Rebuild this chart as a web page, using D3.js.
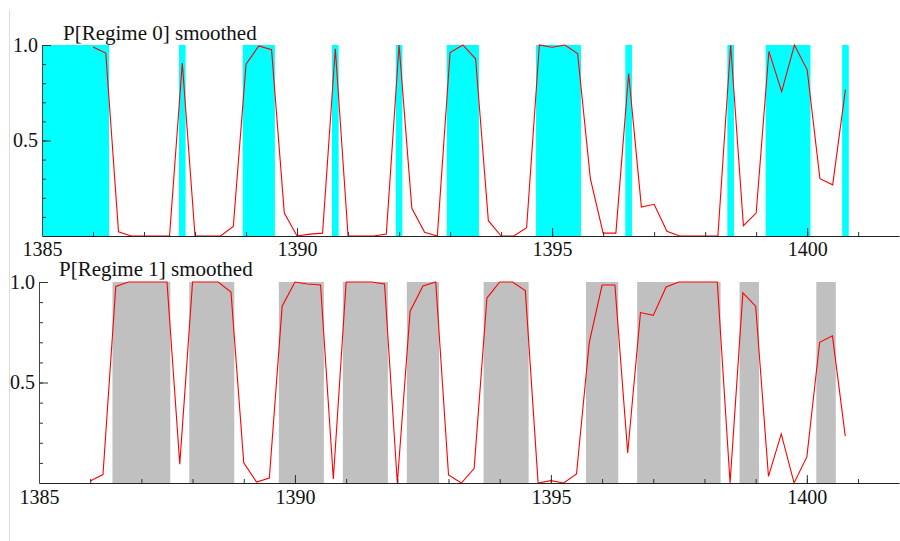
<!DOCTYPE html>
<html>
<head>
<meta charset="utf-8">
<script src="https://cdn.jsdelivr.net/npm/d3@7"></script>
<style>
  body { margin: 0; background: #fff; }
</style>
</head>
<body>
<div id="chart"></div>
<script>
// quarterly data, first observation 1386(1)
const startYear = 1386;
const periodsPerYear = 4;

const regime0Prob = [
  0.99, 0.958, 0.022, 0.0,
  0.0, 0.0, 0.0, 0.906,
  0.0, 0.0, 0.0, 0.05,
  0.90, 0.995, 0.975, 0.12,
  0.0, 0.01, 0.015, 0.98,
  0.0, 0.0, 0.0, 0.01,
  1.0, 0.145, 0.02, 0.0,
  0.96, 1.0, 0.928, 0.08,
  0.0, 0.0, 0.043, 1.0,
  0.988, 1.0, 0.955, 0.30,
  0.015, 0.015, 0.85, 0.152,
  0.166, 0.025, 0.0, 0.0,
  0.0, 0.0, 1.0, 0.054,
  0.12, 0.967, 0.756, 1.0,
  0.87, 0.30, 0.268, 0.767
];

const regime1Prob = [
  0.01, 0.042, 0.978, 1.0,
  1.0, 1.0, 1.0, 0.094,
  1.0, 1.0, 1.0, 0.95,
  0.10, 0.005, 0.025, 0.88,
  1.0, 0.99, 0.985, 0.02,
  1.0, 1.0, 1.0, 0.99,
  0.0, 0.855, 0.98, 1.0,
  0.04, 0.0, 0.072, 0.92,
  1.0, 1.0, 0.957, 0.0,
  0.012, 0.0, 0.045, 0.70,
  0.985, 0.985, 0.15, 0.848,
  0.834, 0.975, 1.0, 1.0,
  1.0, 1.0, 0.0, 0.946,
  0.88, 0.033, 0.244, 0.0,
  0.13, 0.70, 0.732, 0.233
];

// classified regime spans [first, last period]
const regime0Spans = [
  [1385, 1386.25], [1387.75, 1387.75], [1389, 1389.5], [1390.75, 1390.75],
  [1392, 1392], [1393, 1393.5], [1394.75, 1395.5], [1396.5, 1396.5],
  [1398.5, 1398.5], [1399.25, 1400], [1400.75, 1400.75]
];
const regime1Spans = [
  [1386.5, 1387.5], [1388, 1388.75], [1389.75, 1390.5], [1391, 1391.75],
  [1392.25, 1392.75], [1393.75, 1394.5], [1395.75, 1396.25], [1396.75, 1398.25],
  [1398.75, 1399], [1400.25, 1400.5]
];

const xDomain = [1385, 1401.8];
const xMinorTicks = d3.range(1385, 1402);
const xMajorTicks = [1385, 1390, 1395, 1400];
const yMinorTicks = [0.1, 0.2, 0.3, 0.4, 0.5, 0.6, 0.7, 0.8, 0.9, 1.0];
const yMajorTicks = [0.5, 1.0];

const width = 900;
const height = 541;
const serif = '"Liberation Serif", "DejaVu Serif", serif';

const svg = d3.select('#chart')
  .append('svg')
    .attr('width', width)
    .attr('height', height);

svg.append('rect')
  .attr('width', width)
  .attr('height', height)
  .attr('fill', '#fff');

// faint frame line on the left
svg.append('line')
  .attr('x1', 9.5).attr('x2', 9.5)
  .attr('y1', 10).attr('y2', height)
  .attr('stroke', '#dcdcdc');

const panels = [
  { title: 'P[Regime 0] smoothed', values: regime0Prob, spans: regime0Spans, fill: '#00ffff',
    left: 42, right: 899, top: 45, bottom: 236, titleX: 63, titleY: 40, labelPad: 6 },
  { title: 'P[Regime 1] smoothed', values: regime1Prob, spans: regime1Spans, fill: '#c0c0c0',
    left: 39, right: 899, top: 282, bottom: 483, titleX: 59, titleY: 276, labelPad: 7 }
];

panels.forEach(drawPanel);

function drawPanel(p) {
  const x = d3.scaleLinear().domain(xDomain).range([p.left, p.right]);
  const y = d3.scaleLinear().domain([0, 1]).range([p.bottom, p.top]);
  const halfWidth = 0.065;

  const g = svg.append('g');

  // regime shading
  g.selectAll('rect.span')
    .data(p.spans)
    .join('rect')
      .attr('class', 'span')
      .attr('x', d => x(Math.max(xDomain[0], d[0] - halfWidth)))
      .attr('width', d => x(d[1] + halfWidth) - x(Math.max(xDomain[0], d[0] - halfWidth)))
      .attr('y', y(1))
      .attr('height', y(0) - y(1))
      .attr('fill', p.fill);

  // probability line
  const points = p.values.map((v, i) => ({ t: startYear + i / periodsPerYear, v }));
  const line = d3.line().x(d => x(d.t)).y(d => y(d.v));
  g.append('path')
    .datum(points)
    .attr('d', line)
    .attr('fill', 'none')
    .attr('stroke', '#ff0000')
    .attr('stroke-width', 1.1);

  // x axis
  g.append('g')
    .attr('transform', `translate(0, ${p.bottom})`)
    .call(d3.axisBottom(x).tickValues(xMinorTicks).tickSize(-4).tickSizeOuter(0).tickFormat(''))
    .call(a => a.select('.domain').attr('stroke', '#222'));
  g.append('g')
    .attr('transform', `translate(0, ${p.bottom})`)
    .call(d3.axisBottom(x).tickValues(xMajorTicks).tickSize(-8).tickSizeOuter(0)
      .tickPadding(p.labelPad).tickFormat(d3.format('d')))
    .attr('font-family', serif)
    .attr('font-size', 20)
    .call(a => a.select('.domain').remove())
    .call(a => a.selectAll('text').attr('fill', '#111'));

  // y axis
  g.append('g')
    .attr('transform', `translate(${p.left}, 0)`)
    .call(d3.axisLeft(y).tickValues(yMinorTicks).tickSize(-4).tickSizeOuter(0).tickFormat(''))
    .call(a => a.select('.domain').attr('stroke', '#444'));
  g.append('g')
    .attr('transform', `translate(${p.left}, 0)`)
    .call(d3.axisLeft(y).tickValues(yMajorTicks).tickSize(-9).tickSizeOuter(0)
      .tickPadding(4).tickFormat(d3.format('.1f')))
    .attr('font-family', serif)
    .attr('font-size', 20)
    .call(a => a.select('.domain').remove())
    .call(a => a.selectAll('text').attr('fill', '#111'));

  g.selectAll('.tick line').attr('stroke', '#333');

  // panel title
  g.append('text')
    .attr('x', p.titleX)
    .attr('y', p.titleY)
    .attr('font-family', serif)
    .attr('font-size', 21)
    .attr('fill', '#111')
    .text(p.title);
}
</script>
</body>
</html>
